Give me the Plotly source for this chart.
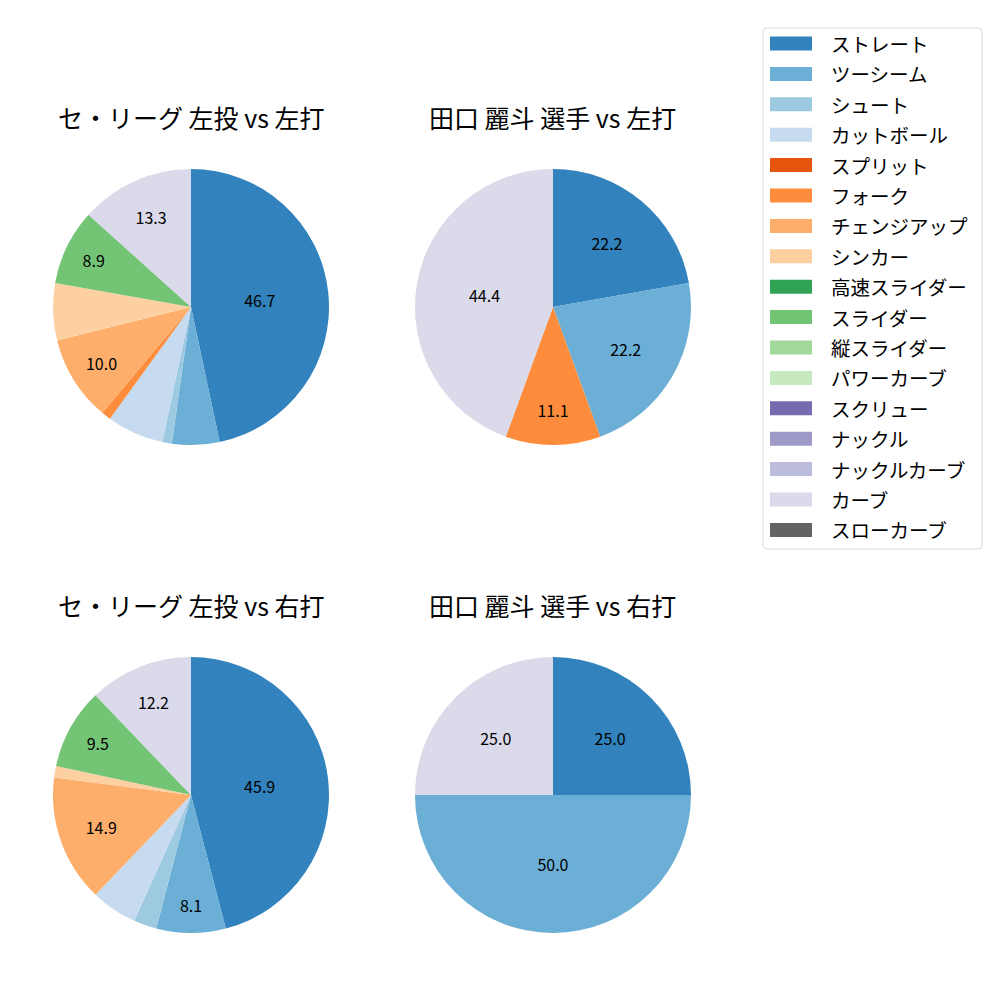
import plotly.graph_objects as go

categories = ["ストレート", "ツーシーム", "シュート", "カットボール", "スプリット", "フォーク",
              "チェンジアップ", "シンカー", "高速スライダー", "スライダー", "縦スライダー",
              "パワーカーブ", "スクリュー", "ナックル", "ナックルカーブ", "カーブ", "スローカーブ"]
colors = ["#3182bd", "#6baed6", "#9ecae1", "#c6dbef", "#e6550d", "#fd8d3c",
          "#fdae6b", "#fdd0a2", "#31a354", "#74c476", "#a1d99b",
          "#c7e9c0", "#756bb1", "#9e9ac8", "#bcbddc", "#dadaeb", "#636363"]

# pitch counts per category (same order as categories)
league_vs_left = [42, 5, 1, 6, 0, 1, 9, 6, 0, 8, 0, 0, 0, 0, 0, 12, 0]
player_vs_left = [2, 2, 0, 0, 0, 1, 0, 0, 0, 0, 0, 0, 0, 0, 0, 4, 0]
league_vs_right = [34, 6, 2, 4, 0, 0, 11, 1, 0, 7, 0, 0, 0, 0, 0, 9, 0]
player_vs_right = [1, 2, 0, 0, 0, 0, 0, 0, 0, 0, 0, 0, 0, 0, 0, 1, 0]

titles = ["セ・リーグ 左投 vs 左打", "田口 麗斗 選手 vs 左打",
          "セ・リーグ 左投 vs 右打", "田口 麗斗 選手 vs 右打"]

FONT = "Noto Sans CJK JP"

panels = [
    (league_vs_left, [0.053, 0.329], [0.555, 0.831], titles[0], 0.883),
    (player_vs_left, [0.415, 0.691], [0.555, 0.831], titles[1], 0.883),
    (league_vs_right, [0.053, 0.329], [0.067, 0.343], titles[2], 0.395),
    (player_vs_right, [0.415, 0.691], [0.067, 0.343], titles[3], 0.395),
]

fig = go.Figure()
annotations = []
for vals, dx, dy, title, ty in panels:
    total = sum(vals)
    texts = []
    for v in vals:
        p = 100.0 * v / total
        texts.append(f"{p:.1f}" if p >= 8 else "")
    fig.add_trace(go.Pie(
        labels=categories, values=vals, text=texts, textinfo="text",
        textposition="inside", insidetextorientation="horizontal",
        sort=False, direction="clockwise", rotation=0,
        marker=dict(colors=colors, line=dict(width=0)),
        domain=dict(x=dx, y=dy), showlegend=False,
        textfont=dict(family=FONT, size=16, color="black"),
        hoverinfo="label+percent",
    ))
    annotations.append(dict(text=title, x=(dx[0] + dx[1]) / 2, y=ty, xref="paper", yref="paper",
                            xanchor="center", yanchor="middle", showarrow=False,
                            font=dict(family=FONT, size=25, color="black")))

# manual legend (matplotlib style)
shapes = []
W, H = 1000.0, 1000.0
x0, x1, y0, y1, rr = 763, 982, 28, 549, 4
path = (f"M {(x0+rr)/W},{1-y0/H} L {(x1-rr)/W},{1-y0/H} Q {x1/W},{1-y0/H} {x1/W},{1-(y0+rr)/H} "
        f"L {x1/W},{1-(y1-rr)/H} Q {x1/W},{1-y1/H} {(x1-rr)/W},{1-y1/H} "
        f"L {(x0+rr)/W},{1-y1/H} Q {x0/W},{1-y1/H} {x0/W},{1-(y1-rr)/H} "
        f"L {x0/W},{1-(y0+rr)/H} Q {x0/W},{1-y0/H} {(x0+rr)/W},{1-y0/H} Z")
shapes.append(dict(type="path", path=path, xref="paper", yref="paper",
                   line=dict(color="#d9d9d9", width=1), fillcolor="rgba(255,255,255,0.8)"))
for i, (cat, col) in enumerate(zip(categories, colors)):
    yc = 43.5 + i * 30.4
    shapes.append(dict(type="rect", xref="paper", yref="paper",
                       x0=770 / W, x1=812 / W, y0=1 - (yc - 7) / H, y1=1 - (yc + 7) / H,
                       fillcolor=col, line=dict(width=0)))
    annotations.append(dict(text=cat, x=829 / W, y=1 - yc / H, xref="paper", yref="paper",
                            xanchor="left", yanchor="middle", showarrow=False,
                            font=dict(family=FONT, size=19.5, color="black")))

fig.update_layout(width=1000, height=1000, margin=dict(l=0, r=0, t=0, b=0),
                  paper_bgcolor="white", plot_bgcolor="white", showlegend=False,
                  annotations=annotations, shapes=shapes)
fig.write_html("out.html")
